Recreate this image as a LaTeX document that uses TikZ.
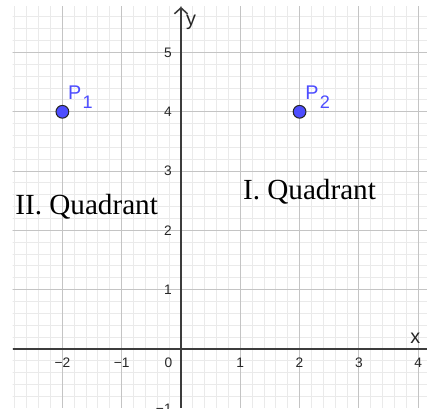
\documentclass[tikz,border=0pt]{standalone}
\usepackage{fontspec}
\setmainfont{Liberation Serif}
\setsansfont{Liberation Sans}
\usetikzlibrary{
    arrows.meta,
    positioning
}
\definecolor{ptblue}{HTML}{4D4DFF}
\definecolor{majorgrid}{HTML}{C4C4C4}
\definecolor{minorgrid}{HTML}{EAEAEA}
\definecolor{axisgray}{HTML}{3C3C3C}
\tikzset{
    axis/.style={axisgray, line width=0.75pt},
    ticklabel/.style={font=\sffamily\fontsize{6.6}{7}\selectfont, text=black!85, inner sep=0pt},
    axislabel/.style={font=\sffamily\fontsize{9.5}{10}\selectfont, text=black!85, inner sep=0pt, anchor=base},
    pt/.style={circle, draw=black!85, fill=ptblue, minimum size=2.15mm, inner sep=0pt, line width=0.5pt},
    ptlabel/.style={font=\sffamily\fontsize{9.5}{10}\selectfont, text=ptblue, anchor=base west, inner sep=0pt},
    quadlabel/.style={font=\fontsize{14}{16}\selectfont, anchor=base west, inner sep=0pt}
}

\begin{document}
\begin{tikzpicture}
    \useasboundingbox (-3.052,-1.012) rectangle (4.149,5.885);

    % grid
    \begin{scope}
        \clip (-2.84,-0.99) rectangle (4.149,5.78);
        \draw[minorgrid, line width=0.45pt, step=0.2] (-3,-1.2) grid (4.4,6);
        \draw[majorgrid, line width=0.55pt, step=1] (-3,-1.2) grid (4.4,6);
    \end{scope}

    % axes
    \coordinate (xstart) at (-2.84,0);
    \coordinate (xend) at (4.32,0);
    \coordinate (ystart) at (0,-0.99);
    \coordinate (yend) at (0,5.77);
    \draw[axis, -{Straight Barb[length=1mm,width=2.2mm]}] (xstart) -- (xend);
    \draw[axis, -{Straight Barb[length=1mm,width=2.2mm]}] (ystart) -- (yend);

    \node[axislabel] (xlab) at (3.95,0.085) {x};
    \node[axislabel] (ylab) at (0.17,5.45) {y};

    % tick labels
    \foreach \x/\t in {-2/−2, -1/−1, 1/1, 2/2, 3/3, 4/4}
        \node[ticklabel, anchor=base] (xt\x) at (\x,-0.31) {\t};
    \node[ticklabel, anchor=base] (zero) at (-0.21,-0.31) {0};
    \foreach \y/\t in {-1/−1, 1/1, 2/2, 3/3, 4/4, 5/5}
        \node[ticklabel, anchor=east] (yt\y) at (-0.15,\y) {\t};

    % points
    \node[pt] (p1) at (-2,4) {};
    \node[pt] (p2) at (2,4) {};
    \node[ptlabel] (p1lab) at (-1.91,4.2) {P\hspace{0.6pt}{\fontsize{8.7}{9}\selectfont\raisebox{-4pt}{1}}};
    \node[ptlabel] (p2lab) at (2.09,4.2) {P\hspace{0.6pt}{\fontsize{8.7}{9}\selectfont\raisebox{-4pt}{2}}};

    % quadrants
    \node[quadlabel] (q2) at (-2.80,2.27) {II. Quadrant};
    \node[quadlabel] (q1) at (1.04,2.52) {I. Quadrant};
\end{tikzpicture}
\end{document}
